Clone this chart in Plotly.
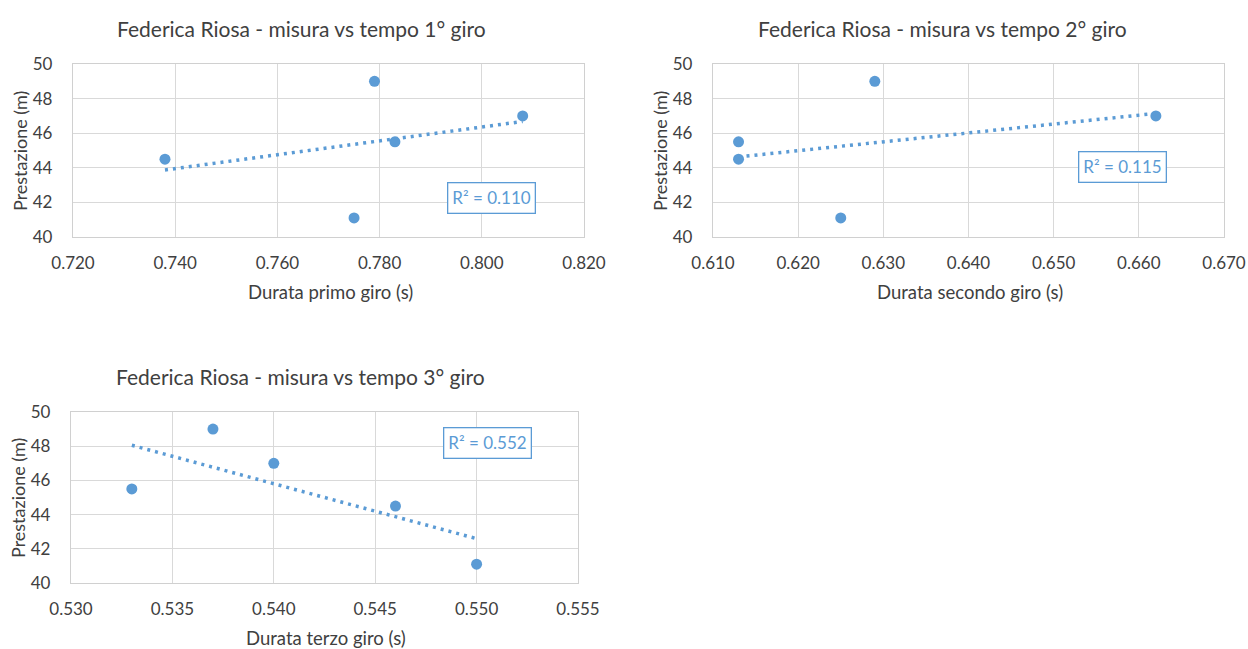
import numpy as np
import plotly.graph_objects as go

# Data (same 5 throws, three laps)
prestazione = [44.5, 49.0, 45.5, 41.1, 47.0]
durata_giro1 = [0.738, 0.779, 0.783, 0.775, 0.808]
durata_giro2 = [0.613, 0.629, 0.613, 0.625, 0.662]
durata_giro3 = [0.546, 0.537, 0.533, 0.550, 0.540]

titles = ["Federica Riosa - misura vs tempo 1° giro",
          "Federica Riosa - misura vs tempo 2° giro",
          "Federica Riosa - misura vs tempo 3° giro"]
x_titles = ["Durata primo giro (s)", "Durata secondo giro (s)", "Durata terzo giro (s)"]
y_title = "Prestazione (m)"
r2_labels = ["R² = 0.110", "R² = 0.115", "R² = 0.552"]
x_ranges = [[0.720, 0.820], [0.610, 0.670], [0.530, 0.555]]
x_dticks = [0.02, 0.01, 0.005]
y_range = [40, 50]

W, H = 1248, 649
BLUE = "#5B9BD5"
TXT = "#404040"
FONT = "Lato"

# plot areas in screen pixels: (left, right, top, bottom)
areas = [(73, 584, 64, 237), (713, 1224, 64, 237), (71, 578, 412, 583)]
r2_pos = [(491, 198), (1122, 167), (487, 443)]
title_pos = [(301, 28), (942, 28), (300, 376)]
xtitle_pos = [(330, 292), (970, 292), (326, 638)]
ytitle_pos = [(20, 151), (660, 151), (18, 498)]

def px(x):
    return x / W

def py(y):
    return 1 - y / H

fig = go.Figure()
xs_all = [durata_giro1, durata_giro2, durata_giro3]
annotations = []
for i, xs in enumerate(xs_all):
    n = "" if i == 0 else str(i + 1)
    xa, ya = "x" + n, "y" + n
    fig.add_trace(go.Scatter(x=xs, y=prestazione, mode="markers", xaxis=xa, yaxis=ya,
                             marker=dict(color=BLUE, size=11), showlegend=False))
    slope, icpt = np.polyfit(xs, prestazione, 1)
    xl = [min(xs), max(xs)]
    fig.add_trace(go.Scatter(x=xl, y=[slope * v + icpt for v in xl], mode="lines",
                             xaxis=xa, yaxis=ya,
                             line=dict(color=BLUE, width=3.5, dash="3px,5px"),
                             showlegend=False))
    l, r, t, b = areas[i]
    ax = dict(range=x_ranges[i], dtick=x_dticks[i], tick0=x_ranges[i][0], tickformat=".3f",
              domain=[px(l), px(r)], anchor=ya, showgrid=True, gridcolor="#D9D9D9",
              gridwidth=1.3, showline=True, linecolor="#D0D0D0", linewidth=1.3, mirror=True,
              zeroline=False, automargin=False, ticks="",
              tickfont=dict(family=FONT, size=17, color=TXT), ticklabelstandoff=10)
    ay = dict(range=y_range, dtick=2, domain=[py(b), py(t)], anchor=xa, showgrid=True,
              gridcolor="#D9D9D9", gridwidth=1.3, showline=True, linecolor="#D0D0D0",
              linewidth=1.3, mirror=True, zeroline=False, automargin=False, ticks="",
              tickfont=dict(family=FONT, size=17, color=TXT), ticklabelstandoff=16)
    fig.layout["xaxis" + n] = ax
    fig.layout["yaxis" + n] = ay
    # chart title
    tx, ty = title_pos[i]
    annotations.append(dict(text=titles[i], x=px(tx), y=py(ty), xref="paper", yref="paper",
                            showarrow=False, xanchor="center", yanchor="middle",
                            font=dict(family=FONT, size=21, color=TXT)))
    # x axis title
    xx, xy = xtitle_pos[i]
    annotations.append(dict(text=x_titles[i], x=px(xx), y=py(xy), xref="paper",
                            yref="paper", showarrow=False, xanchor="center", yanchor="middle",
                            font=dict(family=FONT, size=18.5, color=TXT)))
    # y axis title
    yx, yy = ytitle_pos[i]
    annotations.append(dict(text=y_title, x=px(yx), y=py(yy), xref="paper",
                            yref="paper", showarrow=False, xanchor="center", yanchor="middle",
                            textangle=-90, font=dict(family=FONT, size=18, color=TXT)))
    # R^2 label
    rx, ry = r2_pos[i]
    annotations.append(dict(text=r2_labels[i], x=px(rx), y=py(ry), xref="paper", yref="paper",
                            showarrow=False, xanchor="center", yanchor="middle",
                            bordercolor=BLUE, borderwidth=1.3, borderpad=4, bgcolor="white",
                            font=dict(family=FONT, size=17, color=BLUE)))

fig.update_layout(width=W, height=H, margin=dict(l=0, r=0, t=0, b=0, autoexpand=False),
                  paper_bgcolor="white", plot_bgcolor="white", annotations=annotations,
                  showlegend=False)
fig.write_html("out.html", config={"displayModeBar": False},
               post_script="document.body.style.margin='0';document.body.style.overflow='hidden';")
